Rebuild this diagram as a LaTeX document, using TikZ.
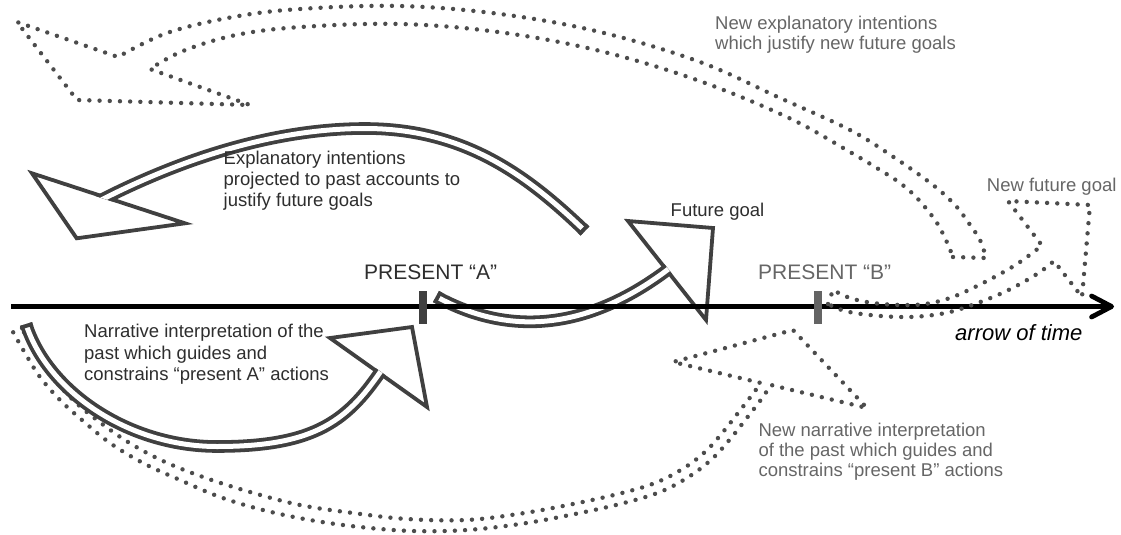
\documentclass[tikz,border=0pt]{standalone}
\usepackage{fontspec}
\setmainfont{Liberation Sans}
\usetikzlibrary{arrows.meta}
\definecolor{dk}{HTML}{404040}
\definecolor{dotc}{HTML}{4C4C4C}
\definecolor{txtd}{HTML}{2E2E2E}
\definecolor{txtg}{HTML}{666666}
\definecolor{tickg}{HTML}{646464}
\begin{document}
\begin{tikzpicture}[x=1pt,y=-1pt,
  shaft/.style={draw=dk, line width=3.8pt, double=white, double distance=5pt},
  headln/.style={draw=dk, line width=3.8pt, line join=miter},
  capln/.style={draw=dk, line width=3.8pt},
  dots/.style={draw=dotc, line width=4.4pt, line cap=round, line join=round, dash pattern=on 0pt off 10.2pt},
  timeline/.style={draw=black, line width=4.8pt, -{Straight Barb[length=20pt,width=21pt,round]}},
  tickmark/.style={draw=none, inner sep=0pt, minimum width=8pt, minimum height=33pt},
  lab/.style={font=\fontsize{18.5}{21}\selectfont, align=left, inner sep=0pt, anchor=base west},
  pres/.style={font=\fontsize{21}{25}\selectfont, inner sep=0pt, anchor=base west}]
\fill[white] (0,0) rectangle (1121,535);
\useasboundingbox (0,0) rectangle (1121,535);

% ---- D3: new narrative interpretation (dotted, under S3)
\draw[dots] (22,328) -- (13,332) -- plot[smooth,tension=0.6] coordinates {(13,332) (25,353) (40,377) (60,400) (82,420) (110,443) (143,463) (180,480) (220,497) (263,510) (310,520) (360,527) (413,531) (467,530) (520,524) (570,515) (620,504) (660,492) (690,476) (713,458) (731,438) (746,419) (760,401) (771,385)}
  -- (867,408) -- (793,330) -- (673,362) -- (761,383)
  -- plot[smooth,tension=0.6] coordinates {(761,383) (752,395) (738,413) (723,432) (706,451) (684,468) (655,483) (618,494) (568,505) (518,514) (466,520) (407,519) (353,513) (300,505) (250,492) (203,477) (163,461) (128,442) (97,420) (72,399) (50,374) (33,349) (22,328)};

% ---- S1: explanatory intentions arrow
\coordinate (s1a) at (32,173.3);
\coordinate (s1t) at (76.7,238.3);
\coordinate (s1b) at (185,223.3);
\draw[headln] (s1a) -- (s1t) -- (s1b) -- cycle;
\begin{scope}
  \clip (-919.1,-135.5) -- (1134.9,535.7) -- (1445.5,-414.8) -- (-608.5,-1086) -- cycle;
  \draw[shaft] (585,231) .. controls (527.4,175.8) and (465,128.5) .. (365,128.5)
     .. controls (275,128.5) and (181.2,158.1) .. (92.6,204.4);
\end{scope}
\draw[capln] (588,225.1) -- (579.2,234.3);

% ---- S2: future goal arrow
\coordinate (s2a) at (628,221);
\coordinate (s2t) at (713,228);
\coordinate (s2b) at (706,320);
\draw[headln] (s2a) -- (s2t) -- (s2b) -- cycle;
\begin{scope}
  \clip (10.5,-566.2) -- (1326.5,1104.8) -- (540.5,1723.8) -- (-775.5,52.8) -- cycle;
  \draw[shaft] (436,296.5) .. controls (514.9,339.7) and (595.4,326.7) .. (674,264.8);
\end{scope}
\draw[capln] (440.7,291.8) -- (434.6,303);

% ---- S3: narrative interpretation arrow
\coordinate (s3a) at (330,338);
\coordinate (s3t) at (412,327);
\coordinate (s3b) at (427,407);
\draw[headln] (s3a) -- (s3t) -- (s3b) -- cycle;
\begin{scope}
  \clip (-483.9,-243.55) -- (1243.1,985.45) -- (663.1,1800.45) -- (-1063.9,571.45) -- cycle;
  \draw[shaft] (26,324) .. controls (47,390.5) and (127,446.5) .. (217,446.5)
     .. controls (317,446.5) and (348.6,419.9) .. (384.4,365.9);
\end{scope}
\draw[capln] (20.5,327.7) -- (32.7,323.9);

% ---- time line and ticks
\coordinate (tl0) at (11,306.5);
\coordinate (tl1) at (1114,306.5);
\draw[timeline] (tl0) -- (tl1);
\node[tickmark, fill=dk] (tA) at (423,307.5) {};
\node[tickmark, fill=tickg] (tB) at (817.5,307.5) {};

% ---- D1: new explanatory intentions (dotted)
\draw[dots] (953,257) -- (986,258) -- plot[smooth,tension=0.6] coordinates {(986,258) (980,240) (968,222) (955,205) (933,185) (895,158) (850,130) (780,98) (700,62) (600,32) (500,14) (400,6) (300,9) (233,17) (167,33) (118,57)}
  -- (17,22) -- (77,100) -- (250,105) -- (150,69)
  -- plot[smooth,tension=0.6] coordinates {(150,69) (183,51) (236,35) (301,27) (400,24) (498,32) (596,50) (694,79) (787,117) (850,152) (880,170) (900,183) (917,198) (935,220) (945,238) (953,257)};

% ---- D2: new future goal (dotted)
\draw[dots] (828,304) -- (833,290) -- plot[smooth,tension=0.6] coordinates {(833,290) (850,298) (873,303) (900,305) (925,304) (950,298) (975,287) (1000,274) (1020,262) (1042,245.5)}
  -- (1008,201) -- (1090,205) -- (1082,297) -- (1054,261)
  -- plot[smooth,tension=0.6] coordinates {(1054,261) (1040,272) (1020,284) (1000,294) (975,304) (950,312) (925,316) (900,317) (870,315) (845,311) (828,304)};

% ---- texts (multi-line nodes are anchored at the baseline of their last line)
\node[lab, text=txtd] (t1) at (223.5,206) {Explanatory intentions\\projected to past accounts to\\justify future goals};
\node[lab, text=txtd] (t2) at (670.5,216.7) {Future goal};
\node[pres, text=txtd] (t3) at (364,279) {PRESENT “A”};
\node[pres, text=txtg] (t4) at (758,279) {PRESENT “B”};
\node[lab, text=txtg, font=\fontsize{18.5}{20.7}\selectfont] (t5) at (715,50) {New explanatory intentions\\which justify new future goals};
\node[lab, text=txtg] (t6) at (986.7,191.7) {New future goal};
\node[lab, text=black, font=\fontsize{22}{26}\selectfont\itshape] (t7) at (955,340.5) {arrow of time};
\node[lab, text=txtd, font=\fontsize{18.5}{21.8}\selectfont] (t8) at (84,380.9) {Narrative interpretation of the\\past which guides and\\constrains “present A” actions};
\node[lab, text=txtg, font=\fontsize{18.5}{20.4}\selectfont] (t9) at (758.3,476.8) {New narrative interpretation\\of the past which guides and\\constrains “present B” actions};
\end{tikzpicture}
\end{document}
